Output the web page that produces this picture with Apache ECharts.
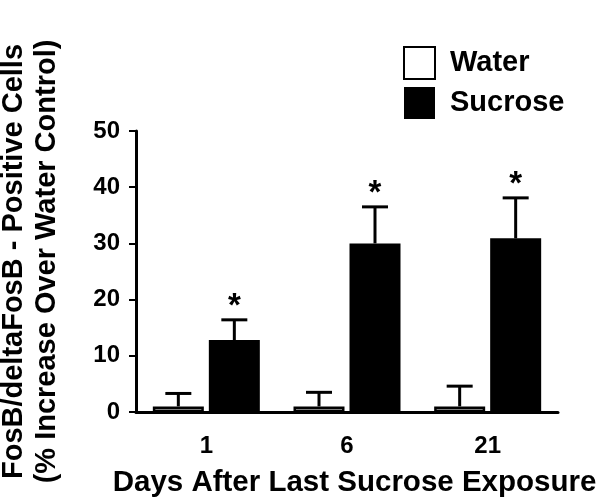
<!DOCTYPE html>
<html>
<head>
<meta charset="utf-8">
<script src="https://cdn.jsdelivr.net/npm/echarts@6/dist/echarts.min.js"></script>
<style>html,body{margin:0;padding:0;background:#fff}#c{width:601px;height:500px}</style>
</head>
<body>
<div id="c"></div>
<script>
var categories = ['1', '6', '21'];
var waterMean = [1.0, 1.0, 1.0];
var waterSem = [2.3, 2.5, 3.6];
var sucroseMean = [12.8, 30.0, 30.9];
var sucroseSem = [3.6, 6.5, 7.2];
var sucroseSig = ['*', '*', '*'];
var yTicks = [0, 10, 20, 30, 40, 50];

var FONT = '"Liberation Sans", Arial, sans-serif';
var BAR_W = 51, GAP = 5;

function errSeries(name, means, sems, sign, sig) {
  return {
    type: 'custom',
    name: name + ' err',
    z: 1,
    data: means.map(function (m, i) { return [i, m, m + sems[i]]; }),
    renderItem: function (params, api) {
      var i = api.value(0);
      var base = api.coord([i, api.value(1)]);
      var top = api.coord([i, api.value(2)]);
      var x = base[0] + sign * (BAR_W + GAP) / 2;
      var cap = 13;
      var children = [
        { type: 'line', shape: { x1: x, y1: base[1], x2: x, y2: top[1] }, style: { stroke: '#000', lineWidth: 3 } },
        { type: 'line', shape: { x1: x - cap, y1: top[1], x2: x + cap, y2: top[1] }, style: { stroke: '#000', lineWidth: 3 } }
      ];
      if (sig && sig[i]) {
        children.push({ type: 'text', style: { x: x, y: top[1] - 13, text: sig[i], fill: '#000',
          font: 'bold 33px ' + FONT, textAlign: 'center', textVerticalAlign: 'middle' } });
      }
      return { type: 'group', children: children };
    }
  };
}

var chart = echarts.init(document.getElementById('c'));
chart.setOption({
  animation: false,
  backgroundColor: '#fff',
  textStyle: { fontFamily: FONT },
  grid: { left: 136, right: 43, top: 131, bottom: 88, containLabel: false, outerBoundsMode: 'none' },
  legend: {
    orient: 'vertical', left: 403, top: 46, padding: 0, itemWidth: 31, itemHeight: 32, itemGap: 7,
    icon: 'rect',
    data: ['Water', 'Sucrose'],
    textStyle: { fontFamily: FONT, fontWeight: 'bold', fontSize: 29, color: '#000', padding: [0, 0, 0, 10] }
  },
  xAxis: {
    type: 'category', data: categories,
    axisLine: { lineStyle: { color: '#000', width: 3 } },
    axisTick: { alignWithLabel: true, length: 5, lineStyle: { color: '#000', width: 2 } },
    axisLabel: { color: '#000', fontWeight: 'bold', fontSize: 24, margin: 22, fontFamily: FONT },
    name: 'Days After Last Sucrose Exposure', nameLocation: 'middle', nameGap: 56,
    nameTextStyle: { color: '#000', fontWeight: 'bold', fontSize: 29.5, fontFamily: FONT, padding: [0, 0, 0, 15] }
  },
  yAxis: {
    type: 'value', min: 0, max: 50, interval: 10,
    splitLine: { show: false },
    axisLine: { show: true, lineStyle: { color: '#000', width: 3 } },
    axisTick: { show: true, length: 7, lineStyle: { color: '#000', width: 2 } },
    axisLabel: { color: '#000', fontWeight: 'bold', fontSize: 24, margin: 16, fontFamily: FONT,
      formatter: function (v) { return yTicks.indexOf(v) >= 0 ? String(v) : ''; } },
    name: 'FosB/deltaFosB - Positive Cells\n(% Increase Over Water Control)',
    nameLocation: 'middle', nameRotate: 90, nameGap: 73,
    nameTextStyle: { color: '#000', fontWeight: 'bold', fontSize: 29, lineHeight: 33, fontFamily: FONT, padding: [0, 0, 0, 20] }
  },
  series: [
    { type: 'bar', name: 'Water', data: waterMean, barWidth: BAR_W, barGap: (GAP / BAR_W * 100) + '%', z: 2,
      itemStyle: { color: '#fff', borderColor: '#000', borderWidth: 2.5 } },
    { type: 'bar', name: 'Sucrose', data: sucroseMean, barWidth: BAR_W, z: 2,
      itemStyle: { color: '#000', borderColor: '#000', borderWidth: 0 } },
    errSeries('Water', waterMean, waterSem, -1, null),
    errSeries('Sucrose', sucroseMean, sucroseSem, 1, sucroseSig)
  ]
});
</script>
</body>
</html>
